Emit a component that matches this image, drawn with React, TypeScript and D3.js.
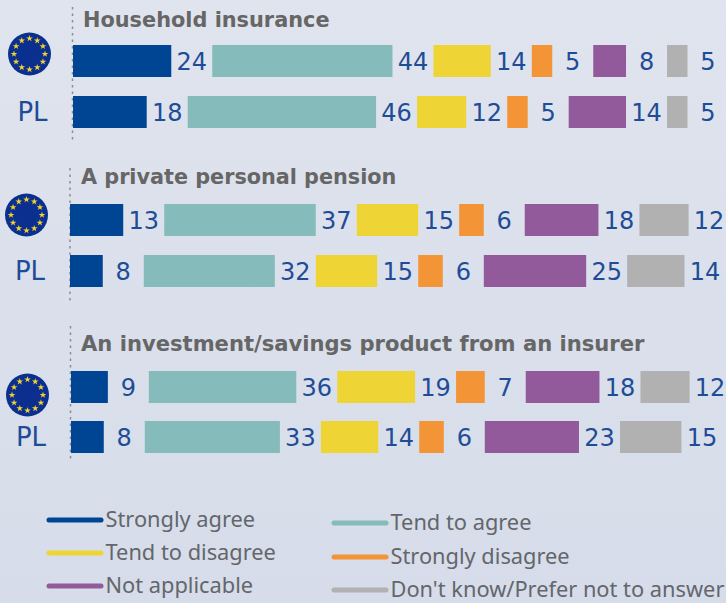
import React from "react";
import * as d3 from "d3";

const W = 726, H = 603;
const questions = ["Household insurance", "A private personal pension", "An investment/savings product from an insurer"];
const euValues = [
  [24, 44, 14, 5, 8, 5],
  [13, 37, 15, 6, 18, 12],
  [9, 36, 19, 7, 18, 12],
];
const plValues = [
  [18, 46, 12, 5, 14, 5],
  [8, 32, 15, 6, 25, 14],
  [8, 33, 14, 6, 23, 15],
];
const legendLabels = ["Strongly agree", "Tend to agree", "Tend to disagree", "Strongly disagree", "Not applicable", "Don't know/Prefer not to answer"];
const colors = ["#004494", "#85BBBB", "#EED535", "#F39536", "#935A9B", "#B1B1B1"];
const plLabel = "PL";

// layout per group
const groupX0 = [73, 70, 71];
const euY = [45, 204, 371];
const plY = [96, 255, 421];
const titleY = [27, 184, 351];
const titleSize = [20.85, 20.75, 21.1];
const axisX = [72.5, 70, 70.5];
const axisY = [[7, 142], [168, 303], [326, 462]];
const flagC = [[29.5, 54], [26.5, 215], [27.5, 395]];
const plLabelPos = [[32.5, 121], [30, 280], [31, 446]];
const BAR_H = 32, GAP = 41;
const x = d3.scaleLinear().domain([0, 100]).range([0, 409.5]);
const starPath = d3.symbol().type(d3.symbolStar).size(14)() as string;
const blue = "#1E4C96";
const font = "'DejaVu Sans', Verdana, sans-serif";
const legendFont = "'Noto Sans', Tahoma, sans-serif";

function Row({ values, x0, y }: { values: number[]; x0: number; y: number }) {
  let cx = x0;
  return (
    <g>
      {values.map((v, i) => {
        const w = x(v);
        const bx = cx;
        cx += w + GAP;
        return (
          <g key={i}>
            <rect x={bx} y={y} width={w} height={BAR_H} fill={colors[i]} />
            <text x={bx + w + GAP / 2} y={y + 25} textAnchor="middle" fontFamily={font} fontSize={24} fill={blue}>{v}</text>
          </g>
        );
      })}
    </g>
  );
}

function Flag({ cx, cy }: { cx: number; cy: number }) {
  return (
    <g transform={`translate(${cx},${cy})`}>
      <circle r={21.5} fill="#0B2F8E" />
      {d3.range(12).map((i) => {
        const a = (i / 12) * 2 * Math.PI;
        return <path key={i} d={starPath} fill="#F5D32F" transform={`translate(${15.5 * Math.sin(a)},${-15.5 * Math.cos(a)})`} />;
      })}
    </g>
  );
}

export default function App() {
  return (
    <svg width={W} height={H} viewBox={`0 0 ${W} ${H}`} style={{ position: "absolute", left: 0, top: 0 }}>
      <defs>
        <linearGradient id="bg" x1="0" y1="0" x2="0" y2="1">
          <stop offset="0" stopColor="#DFE4EE" />
          <stop offset="1" stopColor="#D6DCE9" />
        </linearGradient>
      </defs>
      <rect width={W} height={H} fill="url(#bg)" />
      {questions.map((q, g) => (
        <g key={q}>
          <line x1={axisX[g]} x2={axisX[g]} y1={axisY[g][0]} y2={axisY[g][1]} stroke="#8A8D94" strokeWidth={1.5} strokeDasharray="2.5 4" />
          <text x={g === 0 ? 83 : 81} y={titleY[g]} fontFamily={font} fontWeight={700} fontSize={titleSize[g]} fill="#666">{q}</text>
          <Flag cx={flagC[g][0]} cy={flagC[g][1]} />
          <text x={plLabelPos[g][0]} y={plLabelPos[g][1]} textAnchor="middle" fontFamily={font} fontSize={26} fill={blue}>{plLabel}</text>
          <Row values={euValues[g]} x0={groupX0[g]} y={euY[g]} />
          <Row values={plValues[g]} x0={groupX0[g]} y={plY[g]} />
        </g>
      ))}
      {legendLabels.map((l, i) => {
        const col = i % 2;
        const row = Math.floor(i / 2);
        const lx = col === 0 ? 47 : 332;
        const ly = (col === 0 ? [520, 553, 586] : [523, 557, 590])[row];
        return (
          <g key={l}>
            <line x1={lx + 2} x2={lx + 54} y1={ly} y2={ly} stroke={colors[i]} strokeWidth={5} strokeLinecap="round" />
            <text x={lx + 58.5} y={ly + 7} fontFamily={legendFont} fontSize={21.8} fill="#63666B">{l}</text>
          </g>
        );
      })}
    </svg>
  );
}
